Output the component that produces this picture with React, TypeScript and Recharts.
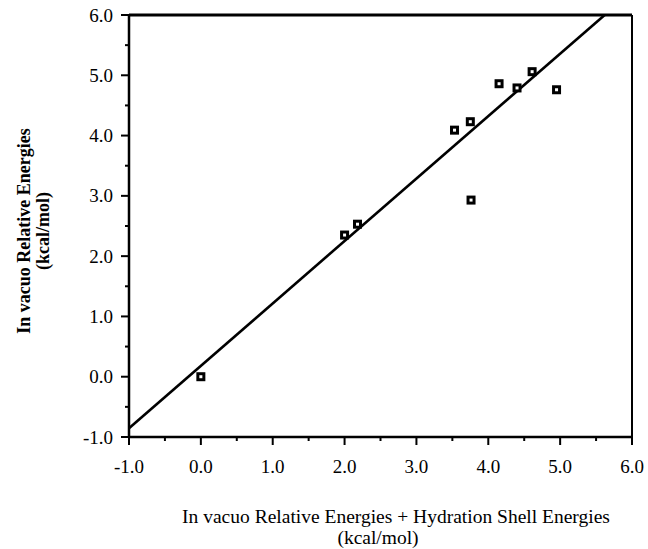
import { ScatterChart, Scatter, XAxis, YAxis, ReferenceLine } from 'recharts';

const pointX = [0.0, 2.0, 2.18, 3.53, 3.75, 3.76, 4.15, 4.4, 4.61, 4.95];
const pointY = [0.0, 2.35, 2.53, 4.09, 4.23, 2.93, 4.86, 4.79, 5.06, 4.76];
const fitX = [-1.0, 5.62];
const fitY = [-0.855, 6.0];
const axisTicks = [-1, -0.5, 0, 0.5, 1, 1.5, 2, 2.5, 3, 3.5, 4, 4.5, 5, 5.5, 6];

const points = pointX.map((x, i) => ({ x, y: pointY[i] }));
const fit = fitX.map((x, i) => ({ x, y: fitY[i] }));

const FONT = '"Liberation Serif", "Times New Roman", serif';
const PLOT_LEFT = 129;
const PLOT_BOTTOM = 437;

const YTick = (props: any) => {
  const { y, payload } = props;
  const major = Number.isInteger(payload.value);
  return (
    <g>
      <line x1={PLOT_LEFT - (major ? 8 : 4)} x2={PLOT_LEFT} y1={y} y2={y} stroke="#000" strokeWidth={2} />
      {major && (
        <text x={113} y={y} textAnchor="end" dominantBaseline="central" fontFamily={FONT} fontSize={19} fill="#000">
          {payload.value.toFixed(1)}
        </text>
      )}
    </g>
  );
};

const XTick = (props: any) => {
  const { x, payload } = props;
  const major = Number.isInteger(payload.value);
  return (
    <g>
      <line x1={x} x2={x} y1={PLOT_BOTTOM} y2={PLOT_BOTTOM + (major ? 8 : 4)} stroke="#000" strokeWidth={2} />
      {major && (
        <text x={x} y={466} textAnchor="middle" dominantBaseline="central" fontFamily={FONT} fontSize={19} fill="#000">
          {payload.value.toFixed(1)}
        </text>
      )}
    </g>
  );
};

const Marker = (props: any) => {
  const { cx, cy } = props;
  return <rect x={cx - 3} y={cy - 3} width={6} height={6} fill="#fff" stroke="#000" strokeWidth={3} />;
};

const NoMarker = () => <g />;

const YTitle = () => (
  <g fontFamily={FONT} fontSize={18} fontWeight="bold" fill="#000">
    <text x={24} y={231} textAnchor="middle" dominantBaseline="central" transform="rotate(-90, 24, 231)">
      In vacuo Relative Energies
    </text>
    <text x={43} y={231} textAnchor="middle" dominantBaseline="central" transform="rotate(-90, 43, 231)">
      (kcal/mol)
    </text>
  </g>
);

const XTitle = () => (
  <g fontFamily={FONT} fontSize={19.5} fill="#000">
    <text x={396} y={516} textAnchor="middle" dominantBaseline="central">
      In vacuo Relative Energies + Hydration Shell Energies
    </text>
    <text x={378} y={537} textAnchor="middle" dominantBaseline="central">
      (kcal/mol)
    </text>
  </g>
);

export default function App() {
  return (
    <div style={{ position: 'absolute', left: 0, top: 0, background: '#fff' }}>
      <ScatterChart width={648} height={549} margin={{ top: 15, right: 16, bottom: 0, left: 0 }}>
        <XAxis
          type="number"
          dataKey="x"
          domain={[-1, 6]}
          ticks={axisTicks}
          interval={0}
          allowDataOverflow
          height={112}
          tickLine={false}
          tickSize={0}
          tick={<XTick />}
          axisLine={{ stroke: '#000', strokeWidth: 2.5 }}
          label={{ content: () => <XTitle /> }}
        />
        <YAxis
          type="number"
          dataKey="y"
          domain={[-1, 6]}
          ticks={axisTicks}
          interval={0}
          allowDataOverflow
          width={129}
          tickLine={false}
          tickSize={0}
          tick={<YTick />}
          axisLine={{ stroke: '#000', strokeWidth: 2.5 }}
          label={{ content: () => <YTitle /> }}
        />
        <ReferenceLine y={6} stroke="#000" strokeWidth={2.8} />
        <ReferenceLine x={6} stroke="#000" strokeWidth={2} />
        <Scatter
          data={fit}
          line={{ stroke: '#000', strokeWidth: 2.6 }}
          shape={<NoMarker />}
          isAnimationActive={false}
        />
        <Scatter data={points} shape={<Marker />} isAnimationActive={false} />
      </ScatterChart>
    </div>
  );
}
